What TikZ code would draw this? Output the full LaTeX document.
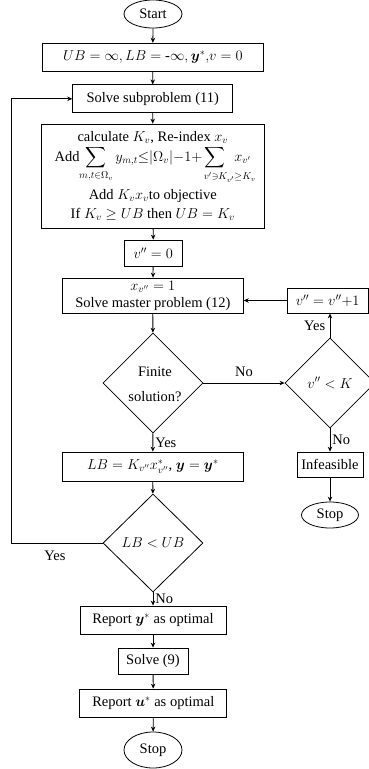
\documentclass[tikz,border=0pt]{standalone}
\usepackage{amsmath,amssymb,bm,mathtools}
\usepackage{fontspec}
\setmainfont{Liberation Serif}
\usetikzlibrary{shapes.geometric,arrows.meta}

\begin{document}
\begin{tikzpicture}[x=1pt,y=-1pt,
  every node/.style={font=\fontsize{14.5}{17}\selectfont},
  box/.style={draw,rectangle,inner sep=0pt,line width=0.8pt},
  term/.style={draw,ellipse,inner sep=0pt,line width=0.8pt},
  dia/.style={draw,diamond,inner sep=0pt,line width=0.8pt},
  lbl/.style={inner sep=0pt},
  flow/.style={line width=0.8pt,-{Stealth[length=5pt,width=4.5pt]}}]
\useasboundingbox (0,0) rectangle (369,769);

% main column
\node[term,minimum width=58,minimum height=28] (start) at (153,14) {Start};
\node[box,minimum width=221,minimum height=28] (init) at (152.8,57.2)
  {$UB = \infty, LB = \text{-}\infty, \bm{y}^*{,}v = 0$};
\node[box,minimum width=160,minimum height=28] (sub) at (152.7,98.8) {Solve subproblem (11)};
\node[box,minimum width=223,minimum height=104,align=center] (cut) at (152.8,176)
  {calculate $K_v$, Re-index $x_v$\\[2pt]
   Add\, $\displaystyle\sum_{\mathclap{m,t\in\Omega_v}}\;\, y_{m,t}{\le}|\Omega_v|{-}1{+}\sum_{\mathclap{\qquad v'\ni K_{v'}\ge K_v}}\;\, x_{v'}$\\[5pt]
   Add $K_v x_v$to objective\\[2pt]
   If $K_v \ge UB$ then $UB = K_v$};
\node[box,minimum width=58,minimum height=26] (vzero) at (153.3,253) {$v'' = 0$};
\node[box,minimum width=181,minimum height=35,align=center] (master) at (152.8,295.5)
  {$x_{v''} = 1$\\Solve master problem (12)};
\node[dia,minimum width=100,minimum height=100] (fin) at (153,383) {};
\node[lbl,align=center] (fintext) at (155,384) {Finite\\[8pt]solution?};
\node[box,minimum width=181,minimum height=29] (lb) at (152.8,466.5)
  {$LB = K_{v''}x^*_{v''}$, $\bm{y} = \bm{y}^*$};
\node[dia,minimum width=100,minimum height=98] (gap) at (153,543) {$LB < UB$};
\node[box,minimum width=146,minimum height=28] (repy) at (153,620) {Report $\bm{y}^*$ as optimal};
\node[box,minimum width=70,minimum height=26] (solve9) at (153,661) {Solve (9)};
\node[box,minimum width=147,minimum height=28] (repu) at (153.3,703) {Report $\bm{u}^*$ as optimal};
\node[term,minimum width=58,minimum height=36] (stop) at (153,750) {Stop};

% side branch
\node[dia,minimum width=90,minimum height=90] (vk) at (330,383) {$v''<K$};
\node[box,minimum width=81.5,minimum height=25] (incr) at (327.7,300.5) {$v'' = v''{+}1$};
\node[box,minimum width=66,minimum height=25] (inf) at (330,464.5) {Infeasible};
\node[term,minimum width=57,minimum height=26] (stopr) at (330,515) {Stop};

% connectors
\draw[flow] (start) -- (init);
\draw[flow] (init) -- (sub);
\draw[flow] (sub) -- (cut);
\draw[flow] (cut) -- (vzero);
\draw[flow] (vzero) -- (master);
\draw[flow] (master) -- (fin);
\draw[flow] (fin) -- node[right,lbl,xshift=2pt] (yes1) {Yes} (lb);
\draw[flow] (fin.east) -- node[above,yshift=3pt] (no1) {No} (vk.west);
\draw[flow] (vk.north) -- node[left,xshift=-1pt] (yes2) {Yes} (vk.north |- incr.south);
\draw[flow] (incr) -- (incr -| master.east);
\draw[flow] (vk.south) -- node[right,lbl,xshift=2pt] (no2) {No} (inf);
\draw[flow] (inf) -- (stopr);
\draw[flow] (lb) -- (gap);
\coordinate (loop) at (11,543);
\draw[flow] (gap.west) -- (loop) |- (sub.west);
\node[lbl] (yes3) at (55,556) {Yes};
\draw[flow] (gap.south) -- node[right,lbl,xshift=2pt] (no3) {No} (repy);
\draw[flow] (repy) -- (solve9);
\draw[flow] (solve9) -- (repu);
\draw[flow] (repu) -- (stop);
\end{tikzpicture}
\end{document}
